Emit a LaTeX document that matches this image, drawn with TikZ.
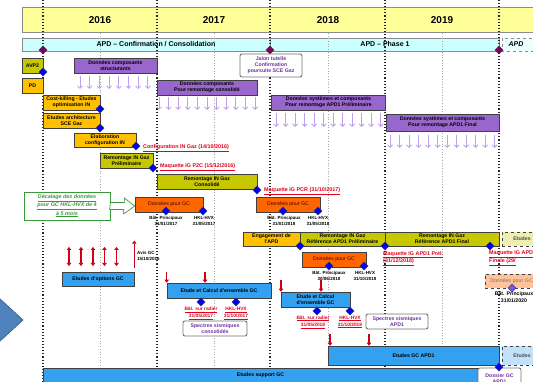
\documentclass[tikz,border=0pt]{standalone}
\usepackage{fontspec}
\setmainfont{Liberation Sans}
\usetikzlibrary{arrows.meta,shapes.geometric}
\definecolor{ganttamber}{HTML}{FFC000}
\definecolor{ganttolive}{HTML}{C8C800}
\definecolor{ganttpurple}{HTML}{9966CC}
\definecolor{ganttlilac}{HTML}{C0A0F0}
\definecolor{ganttorange}{HTML}{FF6600}
\definecolor{ganttblue}{HTML}{33A0F0}
\definecolor{ganttred}{HTML}{E2001A}
\definecolor{ganttgreen}{HTML}{3A9A3A}
\definecolor{ganttplum}{HTML}{7030A0}
\definecolor{ganttmagenta}{HTML}{800060}
\definecolor{ganttline}{HTML}{404040}
\definecolor{ganttyear}{HTML}{FFFF99}
\definecolor{ganttphase}{HTML}{CCFFFF}
\definecolor{ganttchevron}{HTML}{4F81BD}

\begin{document}
\begin{tikzpicture}[
    x=1pt,y=-1pt,>=Latex,
    task/.style={draw=ganttline,line width=.6pt,align=center,inner sep=0pt,
      font=\fontsize{5.2}{6}\selectfont\bfseries},
    gctask/.style={task,fill=ganttorange,text=black!75!red,font=\fontsize{5.2}{6}\selectfont},
    note/.style={draw=black!55,line width=.9pt,rounded corners=2pt,fill=white,align=center,
      inner sep=0pt,text=ganttplum,font=\fontsize{5.2}{6}\selectfont\bfseries},
    gate/.style={diamond,fill=blue,draw=ganttline,line width=.3pt,minimum size=8.5pt,inner sep=0pt},
    phasegate/.style={gate,fill=ganttmagenta},
    tag/.style={align=center,inner sep=0pt,font=\fontsize{4.5}{6}\selectfont\bfseries},
    redtag/.style={tag,text=ganttred,font=\fontsize{4.8}{7}\selectfont\bfseries},
    due/.style={anchor=west,inner sep=0pt,text=ganttred,align=left,
      font=\fontsize{5.4}{7.5}\selectfont\bfseries},
    year/.style={font=\fontsize{10}{10}\selectfont\bfseries},
    phase/.style={font=\fontsize{7}{7}\selectfont\bfseries},
    yearline/.style={draw=black!85,line width=1.1pt,dotted},
    halfline/.style={draw=black!35,line width=.7pt,dotted},
    feed/.style={-{Straight Barb[length=2.5pt,width=5pt]},draw=ganttlilac,line width=.9pt},
    alert/.style={-{Triangle[length=3pt,width=4.5pt]},draw=ganttred!90!black,line width=1.2pt},
    both/.style={{Triangle[length=3pt,width=4.5pt]}-{Triangle[length=3pt,width=4.5pt]},
      draw=ganttred!90!black,line width=1.2pt}
  ]
  \useasboundingbox (0,0) rectangle (533,382);
  \clip (0,0) rectangle (533,382);

  % chevron on the slide
  \filldraw[fill=ganttchevron,draw=ganttchevron!70!black,line width=.6pt]
    (-2,297) -- (23,320) -- (-2,343) -- cycle;

  % header bands
  \draw[draw=black!45,fill=ganttyear] (22,7.5) rectangle (540,32.5);
  \draw[draw=black!45,fill=ganttphase] (22,38) rectangle (270,51);
  \draw[draw=black!45,fill=ganttphase] (270,38) rectangle (499,51);
  \draw[draw=black!45,dashed,fill=ganttphase!40] (502,38) rectangle (540,51);

  \foreach \x in {100,214,328,442} \draw[halfline] (\x,33) -- (\x,382);
  \foreach \x in {43,157,270,385,499} \draw[yearline] (\x,0) -- (\x,382);

  \node[year] (y2016) at (100,20) {2016};
  \node[year] (y2017) at (214,20) {2017};
  \node[year] (y2018) at (328,20) {2018};
  \node[year] (y2019) at (442,20) {2019};
  \node[phase] (apdconf) at (156,44.5) {APD – Confirmation / Consolidation};
  \node[phase] (apdph1) at (385,44.5) {APD – Phase 1};
  \node[phase,anchor=west,font=\fontsize{7}{7}\selectfont\bfseries\itshape] (apdnext) at (505,44.5) {APD};
  \node[phasegate] (pg1) at (43,50) {};
  \node[phasegate] (pg2) at (270,50) {};
  \node[phasegate] (pg3) at (499,50) {};

  % data inputs
  \node[task,fill=ganttpurple,minimum width=83,minimum height=15] (strucA) at (115.5,65.5) {Données composants\\structurants};
  \node[task,fill=ganttpurple,minimum width=100,minimum height=15] (strucB) at (207,87.5) {Données composants\\Pour remontage consolidé};
  \node[task,fill=ganttpurple,minimum width=114,minimum height=15] (sysA) at (328.5,102.5) {Données systèmes et composants\\Pour remontage APD1 Préliminaire};
  \node[task,fill=ganttpurple,minimum width=113,minimum height=17] (sysB) at (442.5,122.5) {Données systèmes et composants\\Pour remontage APD1 Final};
  \foreach \x in {80,89.7,...,148} \draw[feed] (\x,76) -- (\x,89);
  \foreach \x in {159,168.6,...,256} \draw[feed] (\x,97) -- (\x,110);
  \foreach \x in {276,285.5,...,381} \draw[feed] (\x,113) -- (\x,127);
  \foreach \x in {390,399.5,...,495} \draw[feed] (\x,135) -- (\x,148);

  \node[note,minimum width=62,minimum height=23] (jalon) at (271,65.5) {Jalon tutelle\\Confirmation\\poursuite SCE Gaz};

  % IN Gaz
  \node[task,fill=ganttolive,minimum width=21,minimum height=15] (avp) at (32.5,66) {AVP2};
  \node[task,fill=ganttamber,minimum width=21,minimum height=15] (apd) at (32.5,85.5) {PD};
  \node[task,fill=ganttamber,minimum width=57,minimum height=15] (costkill) at (71.5,102.5) {Cost-killing - Etudes\\optimisation IN};
  \node[task,fill=ganttamber,minimum width=57,minimum height=15] (archi) at (71.5,120.5) {Etudes architecture\\SCE Gaz};
  \node[task,fill=ganttamber,minimum width=62,minimum height=14] (elab) at (105,140) {Elaboration\\configuration IN};
  \node[task,fill=ganttolive,minimum width=53,minimum height=15] (rempre) at (126.5,160.5) {Remontage IN Gaz\\Préliminaire};
  \node[task,fill=ganttolive,minimum width=100,minimum height=15] (remcons) at (207,181.5) {Remontage IN Gaz\\Consolidé};
  \node[gate] (dAvp) at (43,72) {};
  \node[gate] (dCost) at (100,109) {};
  \node[gate] (dArchi) at (100,128) {};
  \node[gate] (dElab) at (136,146) {};
  \node[gate] (dRemPre) at (153,168) {};
  \node[gate] (dRemCons) at (257,190) {};
  \node[due] (qConf) at (143,148) {\underline{Configuration IN Gaz (14/10/2016)}};
  \node[due] (qP2C) at (160,167) {\underline{Maquette IG P2C (15/12/2016)}};
  \node[due] (qPCR) at (264,191) {\underline{Maquette IG PCR (31/10/2017)}};

  % data for GC
  \node[draw=ganttgreen,line width=.7pt,fill=white,minimum width=86,minimum height=28,align=center,
    inner sep=0pt,text=ganttgreen,font=\fontsize{5.4}{7}\selectfont\bfseries\itshape] (shift) at (67,206)
    {\underline{Décalage des données}\\\underline{pour GC HKL-HVX de 4}\\\underline{à 5 mois}};
  \node[gctask,minimum width=68,minimum height=15] (gcA) at (169,204.5) {Données pour GC};
  \draw[draw=ganttgreen,fill=white,line width=.7pt] (shift.east) ++(0,-3.5) -- ++(14,0) -- ++(0,-4.5)
    -- (gcA.west |- shift.east) -- ++(-11,8) -- ++(0,-4.5) -- ++(-14,0) -- cycle;
  \node[gate] (dGcA1) at (166,211) {};
  \node[gate] (dGcA2) at (203,211) {};
  \node[tag] (tGcA1) at (166,221) {Bât. Principaux\\31/01/2017};
  \node[tag] (tGcA2) at (204,221) {HKL-HVX\\31/05/2017};

  \node[gctask,minimum width=64,minimum height=15] (gcB) at (288,204.5) {Données pour GC};
  \node[gate] (dGcB1) at (283,211) {};
  \node[gate] (dGcB2) at (318,211) {};
  \node[tag] (tGcB1) at (284,221) {Bât. Principaux\\31/01/2018};
  \node[tag] (tGcB2) at (318,221) {HKL-HVX\\31/05/2018};

  % APD1
  \node[task,fill=ganttamber,minimum width=57,minimum height=14] (engage) at (271.5,239) {Engagement de\\l'APD};
  \node[task,fill=ganttolive,minimum width=85,minimum height=14] (refpre) at (342.5,239) {Remontage IN Gaz\\Référence APD1 Préliminaire};
  \node[task,fill=ganttolive,minimum width=114,minimum height=14] (reffin) at (442,239) {Remontage IN Gaz\\Référence APD1 Final};
  \node[task,dashed,fill=ganttolive!30,text=black!70,anchor=west,text width=52,inner xsep=11pt,
    align=left,minimum height=14] (refnext) at (502,239) {Etudes};
  \node[gate] (dEngage) at (300,246) {};
  \node[gate] (dRefPre) at (385,246) {};
  \node[gate] (dRefFin) at (490,246) {};
  \node[due,anchor=north west] (qApdPre) at (383,251) {\underline{Maquette IG APD1 Prél.}\\\underline{(31/12/2018)}};
  \node[due,anchor=north west] (qApdFin) at (489,251) {\underline{Maquette IG APD1}\\\underline{Finale (29/}};

  \node[gctask,minimum width=64,minimum height=15] (gcC) at (334,259.5) {Données pour GC};
  \node[gate] (dGcC1) at (329,266) {};
  \node[gate] (dGcC2) at (364,266) {};
  \node[tag] (tGcC1) at (329,276) {Bât. Principaux\\30/06/2018};
  \node[tag] (tGcC2) at (365,276) {HKL-HVX\\31/10/2018};

  \node[task,dashed,fill=ganttorange!40,text=black!55,anchor=west,text width=66,inner xsep=5pt,
    align=left,minimum height=14,font=\fontsize{5.2}{6}\selectfont] (gcD) at (485,281) {Données pour GC};
  \node[gate,fill=blue!45!ganttlilac] (dGcD) at (512,288) {};
  \node[tag,font=\fontsize{5.2}{6.5}\selectfont\bfseries] (tGcD) at (514,297) {Bât. Principaux\\31/01/2020};

  % GC studies
  \foreach \x in {69,81,93,104.5,116.5} \draw[both] (\x,247) -- (\x,266);
  \node[task,fill=ganttblue,minimum width=72,minimum height=14] (optgc) at (98,279) {Etudes d'options GC};
  \draw[alert] (optgc.north east) ++(0,-4) -- ++(0,-27);
  \node[tag,anchor=west,align=left] (avis) at (137,256) {Avis GC\\15/10/2016};

  \node[task,fill=ganttblue,minimum width=104,minimum height=15] (calcA) at (219,290.5) {Etude et Calcul d'ensemble GC};
  \draw[alert] (calcA.north west) ++(0,-11) -- (calcA.north west);
  \draw[alert] (205,272) -- (205,272 |- calcA.north);
  \node[gate] (dCalcA1) at (201,302) {};
  \node[gate] (dCalcA2) at (236,302) {};
  \node[redtag] (tCalcA1) at (201,313.5) {\underline{Bât. sur radier}\\\underline{31/05/2017}};
  \node[redtag] (tCalcA2) at (236,313.5) {\underline{HKL-HVX}\\\underline{31/10/2017}};
  \node[note,minimum width=64,minimum height=15] (specA) at (215,328.5) {Spectres sismiques\\consolidés};

  \node[task,fill=ganttblue,minimum width=69,minimum height=15] (calcB) at (315.5,299.5) {Etude et Calcul\\d'ensemble GC};
  \draw[alert] (281,280) -- (281,280 |- calcB.north);
  \draw[alert] (321,280) -- (321,280 |- calcB.north);
  \node[gate] (dCalcB1) at (317,311) {};
  \node[gate] (dCalcB2) at (350,311) {};
  \node[redtag] (tCalcB1) at (313,322) {\underline{Bât. sur radier}\\\underline{31/05/2018}};
  \node[redtag] (tCalcB2) at (350,322) {\underline{HKL-HVX}\\\underline{31/10/2018}};
  \node[note,minimum width=62,minimum height=15] (specB) at (397,321.5) {Spectres sismiques\\APD1};

  \node[task,fill=ganttblue,minimum width=171,minimum height=19] (gcapd) at (413.5,355.5) {Etudes GC APD1};
  \draw[alert] (330,334) -- (330,334 |- gcapd.north);
  \draw[alert] (369,334) -- (369,334 |- gcapd.north);
  \node[task,dashed,fill=ganttblue!30,text=black!70,anchor=west,text width=52,inner xsep=11pt,
    align=left,minimum height=19] (gcnext) at (502,355.5) {Etudes};

  \node[task,fill=ganttblue,minimum width=435,minimum height=14] (support) at (260.5,375) {Etudes support GC};
  \node[note,minimum width=43,minimum height=21] (dossier) at (499.5,378.5) {Dossier GC\\APD1};
  \node[gate] (dGcApd) at (499,367) {};
\end{tikzpicture}
\end{document}
